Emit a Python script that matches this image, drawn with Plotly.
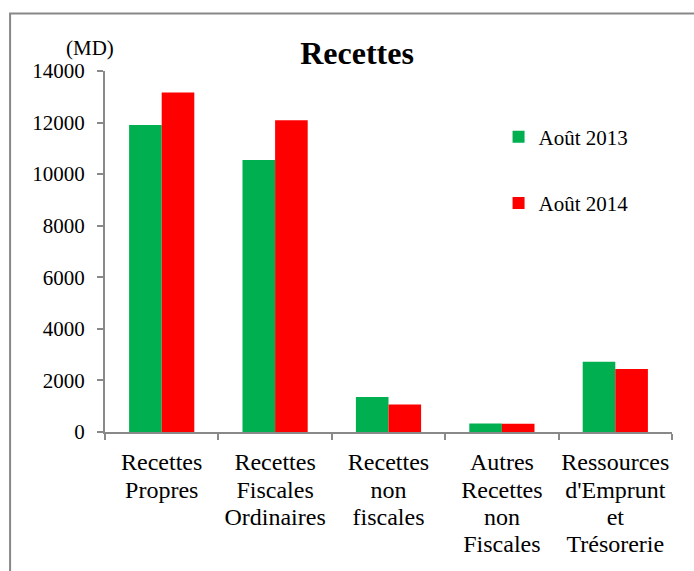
import plotly.graph_objects as go

categories = [
    "Recettes<br>Propres",
    "Recettes<br>Fiscales<br>Ordinaires",
    "Recettes<br>non<br>fiscales",
    "Autres<br>Recettes<br>non<br>Fiscales",
    "Ressources<br>d'Emprunt<br>et<br>Trésorerie",
]
aout_2013 = [11910, 10550, 1360, 330, 2720]
aout_2014 = [13170, 12090, 1065, 318, 2445]
series_names = ["Août 2013", "Août 2014"]
y_ticks = [0, 2000, 4000, 6000, 8000, 10000, 12000, 14000]

FONT = "Liberation Serif, Times New Roman, serif"
AXIS_COLOR = "#898989"

# larger glyphs with tighter line spacing for category labels
cat_text = ["<br>".join('<span style="font-size:24px">%s</span>' % s
                        for s in c.split("<br>")) for c in categories]

fig = go.Figure()
fig.add_trace(go.Bar(x=categories, y=aout_2013, name=series_names[0],
                     marker=dict(color="#00B050", line=dict(width=0)),
                     legendgroup="a"))
fig.add_trace(go.Bar(x=categories, y=aout_2014, name=series_names[1],
                     marker=dict(color="#FF0000", line=dict(width=0)),
                     legendgroup="b"))

fig.update_layout(
    width=694, height=571,
    margin=dict(l=105, r=21.5, t=70.7, b=138.5),
    paper_bgcolor="white", plot_bgcolor="white",
    barmode="group", bargap=0.425, bargroupgap=0,
    font=dict(family=FONT, size=21, color="black"),
    title=dict(text="<b>Recettes</b>", x=357/694, xanchor="center",
               y=1-53/571, yanchor="middle",
               font=dict(family=FONT, size=32, color="black")),
    legend=dict(x=0.6941, y=0.874, xanchor="left", yanchor="top",
                traceorder="grouped", tracegroupgap=36,
                bgcolor="rgba(0,0,0,0)", font=dict(size=21)),
    showlegend=True,
)
fig.update_xaxes(showline=True, linecolor=AXIS_COLOR, linewidth=2,
                 ticks="outside", tickson="boundaries", ticklen=6,
                 tickcolor=AXIS_COLOR, tickwidth=2, showgrid=False,
                 tickmode="array", tickvals=categories, ticktext=cat_text,
                 tickfont=dict(size=21), tickangle=0, automargin=False,
                 ticklabelstandoff=11)
fig.update_yaxes(range=[0, 14000], tickvals=y_ticks, tickformat="d",
                 showline=True, linecolor=AXIS_COLOR, linewidth=2,
                 ticks="outside", ticklen=6, tickcolor=AXIS_COLOR, tickwidth=2,
                 showgrid=False, zeroline=False, automargin=False,
                 ticklabelstandoff=8)

fig.add_annotation(text="(MD)", xref="paper", yref="paper",
                   x=(90-105)/567.5, y=(432.5-48)/361.8,
                   showarrow=False, xanchor="center", yanchor="middle",
                   font=dict(family=FONT, size=21, color="black"))

fig.add_shape(type="rect", xref="paper", yref="paper",
              x0=(10-105)/567.5, y0=-0.6, x1=1.2, y1=(432.5-13)/361.8,
              line=dict(color="#878787", width=2), layer="below")

fig.write_html("out.html", config={"displayModeBar": False},
               post_script="document.body.style.margin='0';"
                           "document.body.style.overflow='hidden';")
